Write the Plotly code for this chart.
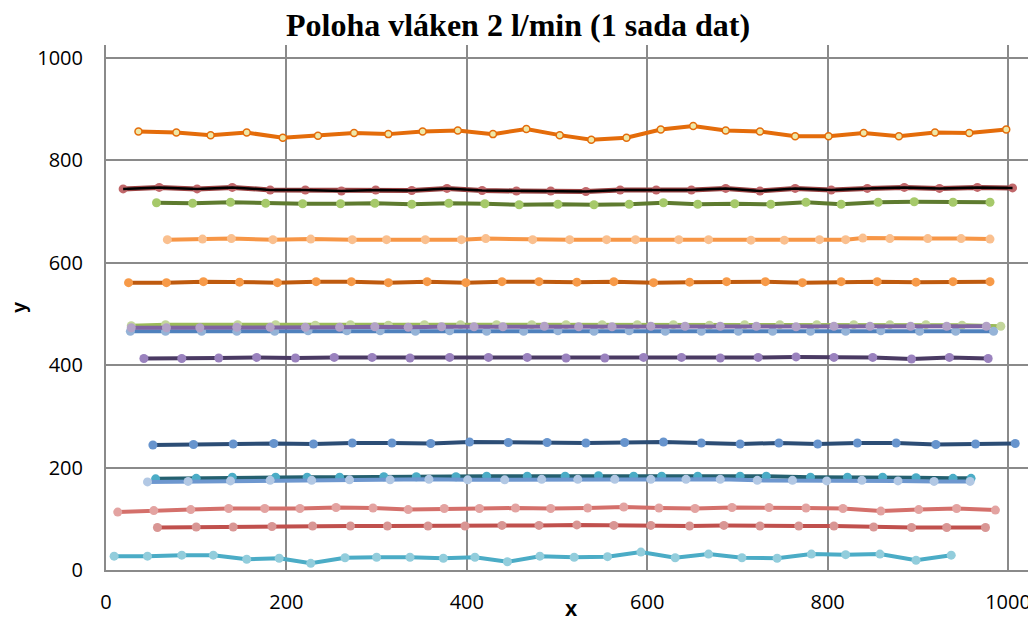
import plotly.graph_objects as go

# ---- data ----
s1_x = [36,78,116,156,196,235,275,313,351,390,429,466,503,538,577,615,651,687,725,764,801,840,879,919,957,998]
s1_y = [856,854,849,854,844,848,853,851,856,858,851,861,849,840,844,860,867,858,856,847,847,853,847,854,853,860]

s2_x = [19,59,101,140,182,221,261,299,339,378,417,455,493,532,570,610,649,687,725,764,804,844,885,924,966,1005]
s2_y = [744,747,744,747,742,742,740,742,741,745,741,740,740,739,742,742,742,745,740,745,742,745,747,745,747,746]

s3_x = [56,96,138,177,218,260,298,339,380,420,458,501,541,580,618,656,697,737,776,815,856,896,939,980]
s3_y = [717,716,718,716,715,715,716,714,716,715,713,714,713,714,717,714,715,714,718,714,718,719,718,718]

s4_x = [68,107,139,185,227,273,311,354,394,421,473,514,555,587,635,668,715,752,791,820,839,869,911,948,980]
s4_y = [645,646,647,645,646,645,645,645,645,647,645,645,645,645,645,645,644,644,645,645,648,647,647,647,646]

s5_x = [25,67,108,148,190,233,272,313,356,399,439,480,522,563,607,647,688,731,772,815,855,898,939,980]
s5_y = [561,561,563,562,561,563,563,561,563,561,563,563,562,563,561,562,563,563,561,563,563,562,563,563]

s6_x = [28,66,146,188,232,271,313,353,393,433,472,510,550,589,629,669,708,747,788,829,869,909,949,992]
s6_y = [477,479,479,479,478,479,478,479,479,479,479,479,479,479,479,478,479,479,479,479,479,479,478,476]

s7_x = [27,66,106,145,187,224,267,304,343,381,422,463,501,541,580,620,660,701,739,781,820,859,902,942,984]
s7_y = [466,466,466,466,466,467,467,467,466,467,466,466,467,466,467,466,466,466,466,466,466,467,466,466,466]

s8_x = [28,67,104,145,182,221,259,298,335,372,408,440,486,524,561,604,642,681,721,765,807,847,892,932,976]
s8_y = [473,473,473,474,474,474,474,475,474,475,475,475,476,475,475,476,476,476,476,475,476,476,476,476,476]

s9_x = [42,84,125,167,210,253,295,337,381,424,467,510,553,596,638,681,723,765,807,850,893,935,978]
s9_y = [413,413,414,415,414,415,415,414,415,415,415,414,414,415,415,414,415,416,415,415,412,415,413]

s10_x = [52,97,141,186,230,273,317,360,403,446,489,532,575,618,660,703,746,789,833,876,920,964,1008]
s10_y = [244,245,246,247,246,248,248,247,250,249,249,248,249,250,248,246,248,246,248,248,245,246,247]

s11_x = [55,100,140,188,223,259,308,344,388,422,467,509,546,585,616,656,703,732,781,822,861,898,939,959]
s11_y = [178,179,181,181,181,181,182,182,182,183,183,183,184,183,183,183,183,183,181,181,181,180,179,179]

s12_x = [46,91,138,182,228,270,315,358,401,442,483,523,564,604,643,681,722,761,799,838,878,918,958]
s12_y = [172,173,174,175,175,176,176,177,176,176,177,177,177,177,177,177,175,175,174,175,174,173,173]

s13_x = [13,53,94,136,176,215,255,296,335,375,414,454,493,534,574,613,653,694,735,776,817,859,901,943,986]
s13_y = [113,116,118,120,120,120,122,121,118,120,120,121,120,121,123,121,120,122,122,121,120,115,118,120,117]

s14_x = [57,100,141,184,229,271,312,357,398,439,480,522,563,604,647,685,725,768,807,851,893,932,975]
s14_y = [83,84,84,85,86,86,86,86,86,87,87,88,87,87,86,87,86,86,86,84,83,83,83]

s15_x = [9,46,84,119,156,192,227,265,300,337,374,409,445,481,519,556,593,631,668,705,744,782,820,858,898,937]
s15_y = [27,27,29,29,21,23,13,24,25,25,23,25,16,27,25,26,35,24,31,24,23,31,30,31,19,29]

x_ticks = [0, 200, 400, 600, 800, 1000]
y_ticks = [0, 200, 400, 600, 800, 1000]

title_text = "Poloha vláken 2 l/min (1 sada dat)"

fig = go.Figure()

def add(x, y, line_color, marker_color, lw=4, ms=9, mline=None, mlw=0):
    fig.add_trace(go.Scatter(
        x=x, y=y, mode="lines+markers",
        line=dict(color=line_color, width=lw),
        marker=dict(color=marker_color, size=ms,
                    line=dict(color=mline or marker_color, width=mlw)),
        showlegend=False, cliponaxis=False))

add(s15_x, s15_y, "#4BACC6", "#92CDDC")
add(s14_x, s14_y, "#C0504D", "#D99694")
add(s13_x, s13_y, "#D4706B", "#E3A3A1")
add(s11_x, s11_y, "#24606F", "#4BACC6")
add(s12_x, s12_y, "#6D97CF", "#B2C8E4")
add(s10_x, s10_y, "#2C4D75", "#6794CD")
add(s9_x, s9_y, "#4A3A63", "#9A82BE")
add(s6_x, s6_y, "#9BBB59", "#C3D69B")
add(s7_x, s7_y, "#4F81BD", "#95B3D7")
add(s8_x, s8_y, "#8064A2", "#B3A2C7")
add(s5_x, s5_y, "#BE5A0E", "#F79A48")
add(s4_x, s4_y, "#F79646", "#FAC08F")
add(s3_x, s3_y, "#5E7B2F", "#A6C96A")
add(s2_x, s2_y, "#9B4444", "#C0676A", lw=5)
fig.add_trace(go.Scatter(x=s2_x, y=s2_y, mode="lines",
                         line=dict(color="#000000", width=2.5), showlegend=False))
add(s1_x, s1_y, "#E46C0A", "#EFE8A8", lw=4, ms=7, mline="#E46C0A", mlw=1.5)

# page body has an 8px margin, so the figure is sized/offset to compensate
W, H = 1028, 613
grid = "#8A8A8A"
fig.update_layout(
    width=W, height=H,
    margin=dict(l=98, r=0, t=37, b=51, autoexpand=False),
    paper_bgcolor="white", plot_bgcolor="white",
    title=dict(text=title_text, x=(518 - 8) / W, xanchor="center",
               y=1 - 17 / H, yref="container", yanchor="middle",
               font=dict(family="Liberation Serif, Times New Roman, serif", size=32, color="black",
                         weight="bold")),
    font=dict(family="Open Sans, sans-serif", size=20, color="black"),
)
fig.update_xaxes(
    range=[0, 1031], tickvals=x_ticks, ticktext=[str(v) for v in x_ticks],
    showgrid=True, gridcolor=grid, gridwidth=2, automargin=False,
    showline=True, linecolor=grid, linewidth=2, zeroline=False,
    ticks="", ticklabelstandoff=13,
    tickfont=dict(family="Open Sans, sans-serif", size=20),
    title=dict(text="<b>x</b>", font=dict(family="Liberation Sans, Arial, sans-serif", size=22), standoff=0),
)
fig.update_yaxes(
    range=[0, 1025], tickvals=y_ticks, ticktext=[str(v) for v in y_ticks],
    showgrid=True, gridcolor=grid, gridwidth=2, automargin=False,
    showline=True, linecolor=grid, linewidth=2, zeroline=False,
    ticks="", ticklabelstandoff=17,
    tickfont=dict(family="Open Sans, sans-serif", size=20),
    title=dict(text="<b>y</b>", font=dict(family="Liberation Sans, Arial, sans-serif", size=20), standoff=40),
)

fig.write_html("out.html")
